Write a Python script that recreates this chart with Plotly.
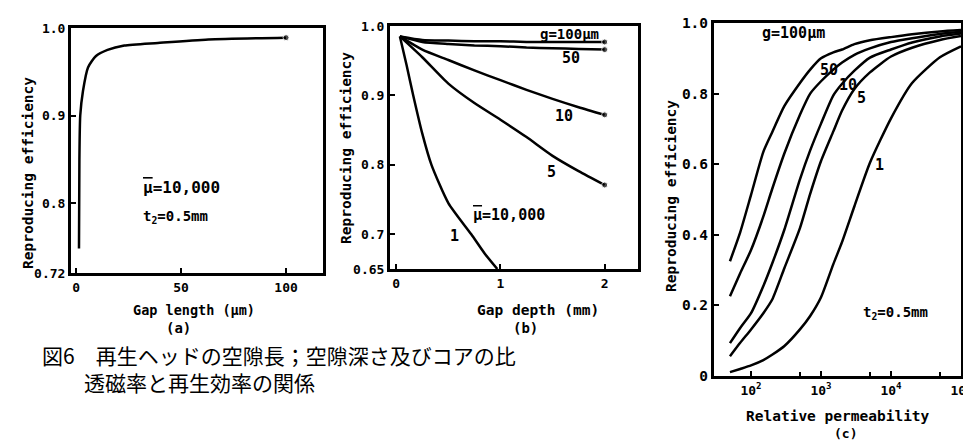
import plotly.graph_objects as go

# ---------------- data ----------------
# (a) efficiency vs gap length
gap_len_um = [1.4, 1.6, 2.0, 3.3, 5.7, 9.5, 15, 23, 39, 63, 100]
eff_a = [0.748, 0.85, 0.9, 0.928, 0.955, 0.968, 0.975, 0.98, 0.983, 0.987, 0.989]

# (b) efficiency vs gap depth
depth_mm = [0.035, 0.25, 0.5, 0.75, 1.0, 1.25, 1.5, 1.75, 2.0]
eff_b_g100 = [0.985, 0.980, 0.979, 0.978, 0.978, 0.977, 0.977, 0.977, 0.977]
eff_b_g50 = [0.985, 0.977, 0.974, 0.972, 0.971, 0.969, 0.968, 0.967, 0.966]
eff_b_g10 = [0.985, 0.966, 0.951, 0.936, 0.922, 0.908, 0.895, 0.883, 0.872]
eff_b_g5 = [0.985, 0.955, 0.917, 0.889, 0.865, 0.840, 0.813, 0.791, 0.771]
depth_mm_g1 = [0.035, 0.1, 0.163, 0.25, 0.338, 0.5, 0.72, 0.85, 0.97]
eff_b_g1 = [0.985, 0.943, 0.9, 0.845, 0.8, 0.745, 0.7, 0.672, 0.65]

# (c) efficiency vs relative permeability
mu = [50, 70, 100, 150, 200, 300, 500, 700, 1000, 1500, 2000, 3000, 5000,
      10000, 20000, 50000, 100000]
eff_c_g100 = [0.325, 0.407, 0.513, 0.635, 0.69, 0.765, 0.83, 0.868, 0.9, 0.917,
              0.925, 0.94, 0.951, 0.96, 0.968, 0.976, 0.98]
eff_c_g50 = [0.226, 0.291, 0.357, 0.452, 0.529, 0.631, 0.74, 0.80, 0.835, 0.868,
             0.888, 0.91, 0.928, 0.946, 0.957, 0.969, 0.975]
eff_c_g10 = [0.093, 0.136, 0.178, 0.255, 0.318, 0.415, 0.557, 0.639, 0.715, 0.795,
             0.828, 0.865, 0.902, 0.925, 0.945, 0.962, 0.970]
eff_c_g5 = [0.056, 0.094, 0.132, 0.178, 0.216, 0.306, 0.419, 0.516, 0.609, 0.693,
            0.752, 0.813, 0.86, 0.905, 0.93, 0.952, 0.963]
eff_c_g1 = [0.011, 0.02, 0.03, 0.045, 0.06, 0.085, 0.132, 0.17, 0.223, 0.317,
            0.38, 0.481, 0.604, 0.73, 0.83, 0.903, 0.934]

a_yticks = [0.72, 0.8, 0.9, 1.0]
a_yticktext = ["0.72", "0.8", "0.9", "1.0"]
a_xticks = [0, 50, 100]
b_yticks = [0.65, 0.7, 0.8, 0.9, 1.0]
b_yticktext = ["0.65", "0.7", "0.8", "0.9", "1.0"]
b_xticks = [0, 1, 2]
c_yticks = [0, 0.2, 0.4, 0.6, 0.8, 1.0]
c_yticktext = ["0", "0.2", "0.4", "0.6", "0.8", "1.0"]
c_xticks = [100, 1000, 10000, 100000]
c_xticktext = ["10<sup>2</sup>", "10<sup>3</sup>", "10<sup>4</sup>", "10<sup>5</sup>"]
c_xminor = [500, 5000, 50000]

W, H = 971, 441
MONO = "DejaVu Sans Mono"
JP = "Noto Sans CJK JP"


def px(x):
    return x / W


def py(y):
    return 1 - y / H


fig = go.Figure()


def end_dot(n, size=6):
    return [0] * (n - 1) + [size]


def add(x, y, xa, ya, dot=False):
    fig.add_trace(go.Scatter(
        x=x, y=y, xaxis=xa, yaxis=ya, mode="lines+markers" if dot else "lines",
        line=dict(color="black", width=2.5, shape="spline", smoothing=0.6),
        marker=dict(color="black", size=end_dot(len(x))) if dot else None,
        showlegend=False, hoverinfo="skip"))


add(gap_len_um, eff_a, "x", "y", dot=True)
for s in [eff_b_g100, eff_b_g50, eff_b_g10, eff_b_g5]:
    add(depth_mm, s, "x2", "y2", dot=True)
add(depth_mm_g1, eff_b_g1, "x2", "y2")
for s in [eff_c_g100, eff_c_g50, eff_c_g10, eff_c_g5, eff_c_g1]:
    add(mu, s, "x3", "y3")

tickfont = dict(family=MONO, size=13, color="black", weight="bold")
axis_common = dict(showline=True, mirror=True, linewidth=3, linecolor="black",
                   ticks="inside", ticklen=5, tickwidth=2, tickcolor="black",
                   showgrid=False, zeroline=False, automargin=False)

fig.update_layout(
    width=W, height=H, margin=dict(l=0, r=0, t=0, b=0),
    paper_bgcolor="white", plot_bgcolor="white",
    xaxis=dict(domain=[px(63), px(315)], range=[-2.4, 117.6], tickvals=a_xticks,
               anchor="y", tickfont=tickfont, **axis_common),
    yaxis=dict(domain=[py(265), py(20)], range=[0.72, 1.0], tickvals=a_yticks,
               ticktext=a_yticktext, anchor="x", tickfont=tickfont, **axis_common),
    xaxis2=dict(domain=[px(382), px(630)], range=[-0.06, 2.32], tickvals=b_xticks,
                anchor="y2", tickfont=tickfont, **axis_common),
    yaxis2=dict(domain=[py(261), py(18)], range=[0.65, 1.0], tickvals=b_yticks,
                ticktext=b_yticktext, anchor="x2", tickfont=tickfont, **axis_common),
    xaxis3=dict(domain=[px(706), px(953)], type="log", range=[1.471, 5.0],
                tickvals=c_xticks, ticktext=c_xticktext, anchor="y3",
                tickfont=dict(family=MONO, size=13, color="black", weight="bold"),
                minor=dict(tickvals=c_xminor, ticks="inside", ticklen=4,
                           tickwidth=2, tickcolor="black"),
                **axis_common),
    yaxis3=dict(domain=[py(368), py(15)], range=[0, 1.0], tickvals=c_yticks,
                ticktext=c_yticktext, anchor="x3",
                tickfont=dict(family=MONO, size=14.5, color="black", weight="bold"),
                **axis_common),
)

ann = []


def note(text, x, y, size=14, xref="paper", yref="paper", xanchor="center",
         angle=0, family=MONO, weight="bold", align="center"):
    ann.append(dict(text=text, x=x, y=y, xref=xref, yref=yref, xanchor=xanchor,
                    yanchor="middle", showarrow=False, textangle=angle, align=align,
                    font=dict(family=family, size=size, color="black",
                              weight=weight)))


MUBAR = '<span style="text-decoration:overline">μ</span>=10,000'

# axis titles and panel labels
note("Gap length (μm)", px(186), py(302), size=13.5)
note("(a)", px(170), py(320))
note("Gap depth (mm)", px(530), py(302), size=14.5)
note("(b)", px(517), py(320))
note("Relative permeability", px(830), py(408), size=14.5)
note("(c)", px(837), py(425), size=13)
note("Reproducing efficiency", px(20), py(165), size=14.5, angle=-90)
note("Reproducing efficiency", px(338), py(140), size=14.5, angle=-90)
note("Reproducing efficiency", px(663), py(188), size=14.5, angle=-90)

# in-panel labels (a)
note(MUBAR, 31, 0.818, size=16, xref="x", yref="y", xanchor="left")
note("t<sub>2</sub>=0.5mm", 31, 0.784, size=14, xref="x", yref="y", xanchor="left")
# (b)
note(MUBAR, 0.72, 0.728, size=15, xref="x2", yref="y2", xanchor="left")
note("1", 0.56, 0.697, size=15, xref="x2", yref="y2")
note("5", 1.49, 0.79, size=15, xref="x2", yref="y2")
note("10", 1.61, 0.87, size=15, xref="x2", yref="y2")
note("50", 1.68, 0.954, size=15, xref="x2", yref="y2")
note("g=100μm", 1.66, 0.988, size=14, xref="x2", yref="y2")
# (c)
note("g=100μm", 2.6, 0.972, size=15, xref="x3", yref="y3")
note("50", 3.12, 0.868, size=15, xref="x3", yref="y3")
note("10", 3.386, 0.825, size=15, xref="x3", yref="y3")
note("5", 3.58, 0.788, size=15, xref="x3", yref="y3")
note("1", 3.84, 0.599, size=15, xref="x3", yref="y3")
note("t<sub>2</sub>=0.5mm", 4.07, 0.178, size=14, xref="x3", yref="y3")

# caption (two lines, second indented)
note("図6　再生ヘッドの空隙長；空隙深さ及びコアの比<br>　　透磁率と再生効率の関係",
     px(32), py(360), size=21, xanchor="left", family=JP, weight="normal",
     align="left")

fig.update_layout(annotations=ann)
fig.write_html("out.html")
